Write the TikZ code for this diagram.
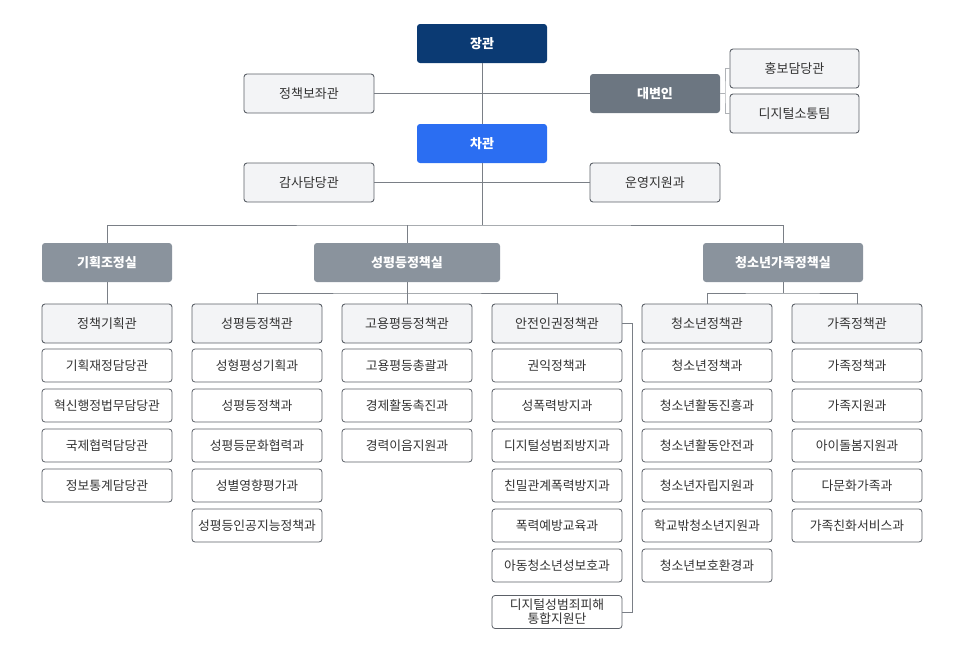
\documentclass[tikz,border=0pt]{standalone}
\usepackage{fontspec}
\setmainfont{Noto Sans CJK KR}
\definecolor{navy}{HTML}{0B3A73}
\definecolor{vblue}{HTML}{2B6EF2}
\definecolor{spk}{HTML}{6C7681}
\definecolor{office}{HTML}{8A939D}
\definecolor{lightbg}{HTML}{F3F4F6}
\definecolor{bd}{HTML}{5B6067}
\definecolor{ln}{HTML}{7A7F86}
\definecolor{txt}{HTML}{333333}
\tikzset{
  base/.style={rounded corners=3pt, minimum width=130pt, minimum height=39pt, inner sep=0pt, align=center, font=\fontsize{13}{15}\selectfont},
  topbox/.style={base, fill=#1, draw=none, text=white, font=\fontsize{13}{15}\selectfont\bfseries},
  hbox/.style={base, fill=lightbg, draw=bd, line width=0.9pt, text=txt},
  ubox/.style={base, minimum height=33pt, fill=white, draw=bd, line width=0.8pt, text=txt, font=\fontsize{12.8}{15}\selectfont},
  conn/.style={draw=ln, line width=0.9pt},
  brk/.style={draw=ln!60, line width=0.9pt}
}
\begin{document}
\begin{tikzpicture}[x=1pt,y=-1pt]
\useasboundingbox (0,0) rectangle (964,653);
% top
\node[topbox=navy] (min) at (482,43.5) {장관};
\node[hbox] (aide) at (309,93.5) {정책보좌관};
\node[topbox=spk] (spk) at (655,93.5) {대변인};
\node[hbox, minimum width=129pt] (pr) at (794.5,68.5) {홍보담당관};
\node[hbox, minimum width=129pt] (dc) at (794.5,113.5) {디지털소통팀};
\node[topbox=vblue] (vice) at (482,143.5) {차관};
\node[hbox] (audit) at (309,182.5) {감사담당관};
\node[hbox] (ops) at (655,182.5) {운영지원과};
% offices
\node[topbox=office] (o1) at (107,262.5) {기획조정실};
\node[topbox=office, minimum width=186pt] (o2) at (407,262.5) {성평등정책실};
\node[topbox=office, minimum width=160pt] (o3) at (783,262.5) {청소년가족정책실};
% bureaus
\node[hbox] (b1) at (107,323.5) {정책기획관};
\node[hbox] (b2) at (257,323.5) {성평등정책관};
\node[hbox] (b3) at (407,323.5) {고용평등정책관};
\node[hbox] (b4) at (557,323.5) {안전인권정책관};
\node[hbox] (b5) at (707,323.5) {청소년정책관};
\node[hbox] (b6) at (857,323.5) {가족정책관};
% units
\foreach \t [count=\i] in {기획재정담당관,혁신행정법무담당관,국제협력담당관,정보통계담당관}
  \node[ubox] (u1\i) at (107,325.5+40*\i) {\t};
\foreach \t [count=\i] in {성형평성기획과,성평등정책과,성평등문화협력과,성별영향평가과,성평등인공지능정책과}
  \node[ubox] (u2\i) at (257,325.5+40*\i) {\t};
\foreach \t [count=\i] in {고용평등총괄과,경제활동촉진과,경력이음지원과}
  \node[ubox] (u3\i) at (407,325.5+40*\i) {\t};
\foreach \t [count=\i] in {권익정책과,성폭력방지과,디지털성범죄방지과,친밀관계폭력방지과,폭력예방교육과,아동청소년성보호과}
  \node[ubox] (u4\i) at (557,325.5+40*\i) {\t};
\node[ubox, font=\fontsize{12.8}{14}\selectfont] (u47) at (557,612) {디지털성범죄피해\\통합지원단};
\foreach \t [count=\i] in {청소년정책과,청소년활동진흥과,청소년활동안전과,청소년자립지원과,학교밖청소년지원과,청소년보호환경과}
  \node[ubox] (u5\i) at (707,325.5+40*\i) {\t};
\foreach \t [count=\i] in {가족정책과,가족지원과,아이돌봄지원과,다문화가족과,가족친화서비스과}
  \node[ubox] (u6\i) at (857,325.5+40*\i) {\t};
% connectors
\begin{scope}[on background layer/.style={}]
\draw[conn] (min.south) -- (vice.north);
\draw[conn] (aide.east) -- (spk.west);
\draw[conn] (audit.east) -- (ops.west);
\coordinate (h0) at (482,225);
\draw[conn] (vice.south) -- (h0);
\draw[conn] (o1.north) |- (h0) -| (o3.north);
\draw[conn] (o2.north) -- (o2.north |- h0);
\draw[conn] (o1.south) -- (b1.north);
\coordinate (h2) at (407,293);
\draw[conn] (o2.south) -- (h2);
\draw[conn] (b2.north) |- (h2) -| (b4.north);
\draw[conn] (b3.north) -- (h2);
\coordinate (h3) at (783,293);
\draw[conn] (o3.south) -- (h3);
\draw[conn] (b5.north) |- (h3) -| (b6.north);
% brackets
\coordinate (sb) at (725,93.5);
\draw[brk] (spk.east) -- (sb);
\draw[brk] (pr.west) -| (sb) |- (dc.west);
\draw[conn] ([yshift=0pt]b4.east) -- ++(10,0) |- (u47.east);
\end{scope}
\end{tikzpicture}
\end{document}
